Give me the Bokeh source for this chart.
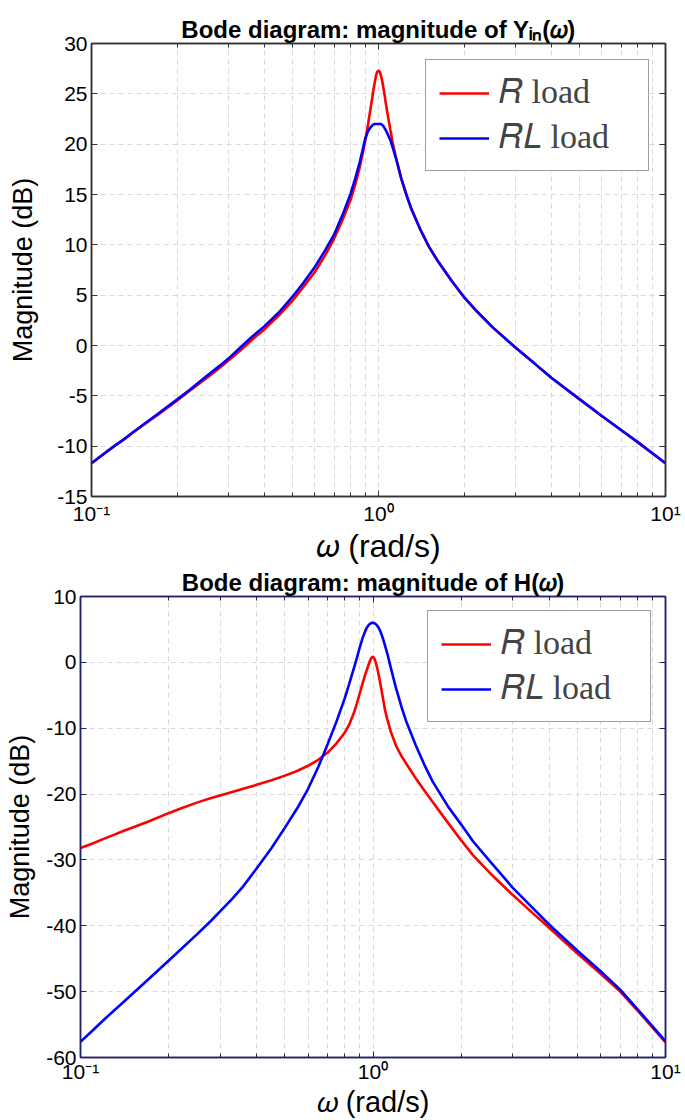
from bokeh.plotting import figure
from bokeh.models import FixedTicker, LogAxis, LinearAxis, Range1d, CustomJSTickFormatter
from bokeh.embed import file_html
from bokeh.resources import INLINE

# ---- data ----
omega = [0.1, 0.11, 0.12, 0.13, 0.14, 0.15, 0.17, 0.2, 0.22, 0.25,
         0.28, 0.3, 0.33, 0.36, 0.4, 0.45, 0.5, 0.55, 0.6, 0.65,
         0.7, 0.75, 0.8, 0.83, 0.86, 0.88, 0.9, 0.92, 0.94, 0.95,
         0.96, 0.97, 0.98, 0.99, 1.0, 1.01, 1.02, 1.03, 1.04, 1.05,
         1.06, 1.08, 1.1, 1.12, 1.15, 1.2, 1.25, 1.3, 1.4, 1.5,
         1.6, 1.8, 2.0, 2.2, 2.5, 3.0, 3.5, 4.0, 5.0, 6.0,
         7.0, 8.0, 10.0]

yin_r = [-11.7, -10.8, -10.0, -9.3, -8.6, -8.0, -6.9, -5.4, -4.5, -3.3,
         -2.2, -1.5, -0.5, 0.5, 1.6, 3.0, 4.4, 5.9, 7.3, 8.9,
         10.6, 12.5, 14.5, 16.0, 17.7, 19.0, 20.4, 22.0, 23.7, 24.5,
         25.4, 26.1, 26.8, 27.2, 27.3, 27.2, 26.8, 26.3, 25.6, 24.9,
         24.1, 22.7, 21.4, 20.2, 18.7, 16.6, 15.0, 13.6, 11.5, 9.8,
         8.5, 6.4, 4.7, 3.4, 1.8, -0.2, -1.8, -3.2, -5.3, -7.0,
         -8.4, -9.6, -11.7]

yin_rl = [-11.7, -10.8, -10.0, -9.3, -8.6, -7.95, -6.8, -5.3, -4.4, -3.1,
          -2.0, -1.3, -0.2, 0.8, 1.9, 3.3, 4.8, 6.3, 7.8, 9.4,
          11.0, 13.0, 15.1, 16.6, 18.2, 19.4, 20.6, 21.3, 21.7, 21.85,
          21.95, 22.0, 22.0, 22.0, 22.0, 22.0, 22.0, 21.9, 21.8, 21.6,
          21.4, 20.9, 20.4, 19.7, 18.6, 16.6, 15.0, 13.6, 11.5, 9.8,
          8.5, 6.4, 4.7, 3.4, 1.8, -0.2, -1.8, -3.2, -5.3, -7.0,
          -8.4, -9.6, -11.7]

h_r = [-28.2, -27.5, -26.8, -26.2, -25.6, -25.1, -24.2, -22.9, -22.2, -21.3,
       -20.6, -20.2, -19.7, -19.2, -18.6, -17.9, -17.2, -16.5, -15.7, -14.8,
       -13.7, -12.3, -10.7, -9.4, -7.7, -6.3, -4.8, -3.3, -1.9, -1.3,
       -0.7, -0.1, 0.4, 0.75, 0.85, 0.65, 0.1, -0.6, -1.4, -2.3,
       -3.3, -5.3, -7.3, -8.7, -10.5, -12.7, -14.2, -15.4, -17.6, -19.5,
       -21.2, -24.3, -27.0, -29.3, -31.9, -35.3, -38.0, -40.3, -44.2, -47.3,
       -50.0, -52.8, -57.7]

h_rl = [-57.6, -55.9, -54.3, -52.9, -51.6, -50.4, -48.2, -45.3, -43.6, -41.3,
        -39.2, -37.8, -35.9, -34.0, -31.3, -28.2, -25.1, -22.2, -19.2, -15.9,
        -12.4, -9.0, -5.5, -3.2, -0.9, 0.6, 2.2, 3.6, 4.7, 5.15,
        5.5, 5.75, 5.9, 6.0, 6.0, 5.95, 5.85, 5.65, 5.4, 5.1,
        4.7, 3.7, 2.5, 1.3, -0.8, -4.0, -6.7, -9.0, -12.6, -15.6,
        -18.1, -21.8, -24.6, -27.2, -30.1, -34.2, -37.2, -39.8, -43.8, -46.9,
        -49.7, -52.6, -57.5]

x_major = [0.1, 1.0, 10.0]
x_minor = [0.2, 0.3, 0.4, 0.5, 0.6, 0.7, 0.8, 0.9, 2.0, 3.0, 4.0, 5.0, 6.0, 7.0, 8.0, 9.0]
x_labels = {0.1: "10\u207b\u00b9", 1.0: "10\u2070", 10.0: "10\u00b9"}
yin_ticks = [-15, -10, -5, 0, 5, 10, 15, 20, 25, 30]
h_ticks = [-60, -50, -40, -30, -20, -10, 0, 10]
series_labels = ["\U0001D445 load", "\U0001D445\U0001D43F load"]
series_colors = ["#ff0000", "#0000ff"]

FONT = "Liberation Sans"
GRID = "#d9d9d9"
BLANK = CustomJSTickFormatter(code="return ''")


def make_fig(title, yr, yticks, ys, frame_color, w, h, bl, bt, bb,
             ylab_standoff, xlab_size, xlab_standoff, leg_margin):
    p = figure(width=w, height=h, x_axis_type="log",
               x_range=Range1d(0.1, 10), y_range=Range1d(*yr),
               output_backend="svg", toolbar_location=None,
               min_border_left=bl, min_border_right=20,
               min_border_top=bt, min_border_bottom=bb)
    p.title.text = title
    p.title.text_font = FONT
    p.title.text_font_size = "24px"
    p.title.text_font_style = "bold"
    p.title.text_color = "black"
    p.title.align = "center"
    p.title.standoff = 1

    xt = FixedTicker(ticks=x_major, minor_ticks=x_minor)
    yt = FixedTicker(ticks=yticks)

    bottom = p.below[0]
    left = p.left[0]
    bottom.ticker = xt
    bottom.major_label_overrides = x_labels
    bottom.axis_label = "\U0001D714 (rad/s)"
    left.ticker = yt
    left.major_label_overrides = {t: str(t) for t in yticks}
    left.axis_label = "Magnitude (dB)"

    top = LogAxis(ticker=xt, formatter=BLANK, major_label_standoff=0)
    right = LinearAxis(ticker=yt, formatter=BLANK, major_label_standoff=0)
    p.add_layout(top, "above")
    p.add_layout(right, "right")

    for ax in (bottom, left, top, right):
        ax.axis_line_color = frame_color
        ax.axis_line_width = 1.5
        ax.major_tick_line_color = frame_color
        ax.minor_tick_line_color = frame_color
        ax.major_tick_in = 6
        ax.major_tick_out = 0
        ax.minor_tick_in = 4
        ax.minor_tick_out = 0
        ax.major_label_text_font = FONT
        ax.major_label_text_color = "black"
        ax.major_label_text_font_size = "21px"
        ax.axis_label_text_font = FONT
        ax.axis_label_text_font_style = "normal"
        ax.axis_label_text_color = "black"
    left.minor_tick_line_color = None
    right.minor_tick_line_color = None
    bottom.axis_label_text_font_size = xlab_size
    left.axis_label_text_font_size = "27px"
    bottom.major_label_standoff = xlab_standoff
    left.major_label_standoff = 4
    bottom.axis_label_standoff = 0
    left.axis_label_standoff = ylab_standoff

    p.outline_line_color = frame_color
    p.outline_line_width = 1.5

    p.xgrid.ticker = xt
    p.ygrid.ticker = yt
    for g in (p.xgrid[0], p.ygrid[0]):
        g.grid_line_color = GRID
        g.grid_line_dash = "5 4"
        g.grid_line_width = 1
    p.xgrid.minor_grid_line_color = GRID
    p.xgrid.minor_grid_line_dash = "5 4"

    for yv, lab, col in zip(ys, series_labels, series_colors):
        p.line(omega, yv, line_color=col, line_width=2.6, legend_label=lab)

    lg = p.legend[0]
    lg.location = "top_right"
    lg.margin = leg_margin
    lg.label_text_font = "Liberation Serif"
    lg.label_text_font_size = "34px"
    lg.label_height = 38
    lg.glyph_height = 38
    lg.glyph_width = 50
    lg.label_standoff = 10
    lg.label_width = 136
    lg.spacing = 6
    lg.padding = 13
    lg.border_line_color = "#404040"
    lg.border_line_width = 1.5
    lg.background_fill_color = "white"
    lg.background_fill_alpha = 1.0
    return p


p1 = make_fig("Bode diagram: magnitude of Y\u1d62\u2099(\U0001D714)", (-15, 30), yin_ticks,
              [yin_r, yin_rl], "#333333", 685, 566, 91, 43, 70, 16, "32px", 5, 16)
p2 = make_fig("Bode diagram: magnitude of H(\U0001D714)", (-60, 10), h_ticks,
              [h_r, h_rl], "#22226a", 685, 554, 80, 30, 58, 8, "29px", 2, 14)

open("out.html", "w").write(file_html([p1, p2], INLINE))
